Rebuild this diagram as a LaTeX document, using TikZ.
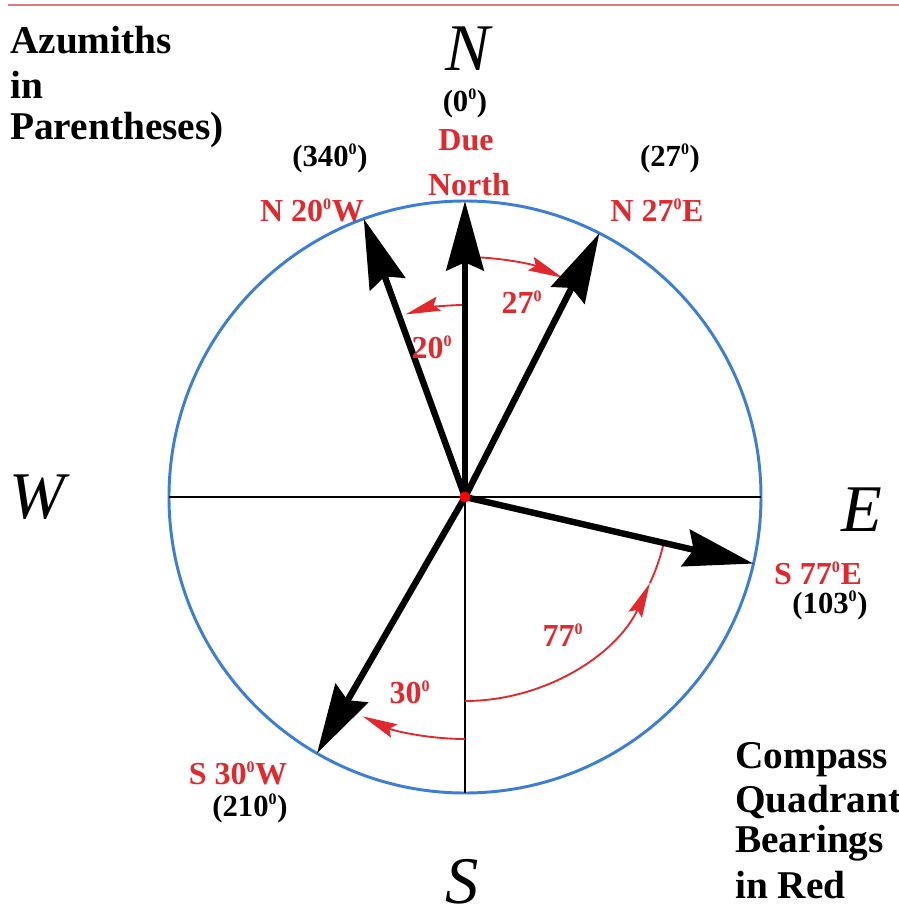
\documentclass[tikz,border=0pt]{standalone}
\usepackage{fontspec}
\setmainfont{Liberation Serif}
\usetikzlibrary{arrows.meta}
\definecolor{circblue}{RGB}{60,125,215}
\definecolor{lblred}{RGB}{225,40,45}
\definecolor{toprule}{RGB}{225,120,120}
\newcommand{\dg}{\textsuperscript{\fontsize{12}{12}\selectfont 0}}
\tikzset{
  bigarrow/.style={line width=4.8pt,-{Stealth[length=52pt,width=28pt,inset=6pt]}},
  axisline/.style={line width=2.2pt},
  redarc/.style={draw=lblred,line width=1.4pt},
  redtip/.style={-{Stealth[length=26pt,width=11pt,inset=4pt]}},
  redlbl/.style={text=lblred,font=\fontsize{24}{26}\selectfont\bfseries,inner sep=0pt},
  blklbl/.style={text=black,font=\fontsize{23}{25}\selectfont\bfseries,inner sep=0pt},
  bigletter/.style={font=\fontsize{50}{52}\selectfont\itshape,inner sep=0pt},
  notelbl/.style={font=\fontsize{29.5}{31}\selectfont\bfseries,inner sep=0pt,anchor=west},
}
\begin{document}
\begin{tikzpicture}[x=0.75pt,y=0.75pt]
\useasboundingbox (-465,-421) rectangle (434,497);
\clip (-465,-421) rectangle (434,497);
\fill[white] (-465,-421) rectangle (434,497);
% top rule
\coordinate (tl) at (-457,492);
\coordinate (tr) at (434,492);
\draw[toprule,line width=2.2pt] (tl) -- (tr);
% centre and circle
\coordinate (O) at (0,0);
\draw[circblue,line width=2.2pt] (O) circle (296);
% points on circle
\coordinate (Wp) at (180:296);
\coordinate (Ep) at (0:296);
\coordinate (Sp) at (270:296);
\coordinate (Np) at (90:296);
\coordinate (NW) at (110:296);
\coordinate (NE) at (63:296);
\coordinate (SE) at (-13:296);
\coordinate (SW) at (240:296);
% axes
\draw[axisline] (Wp) -- (Ep);
\draw[axisline] (O) -- (Sp);
% red arcs
\draw[redarc,redtip] (90:240) arc (90:66:240);
\draw[redarc,redtip] (90:192) arc (90:108:192);
\draw[redarc,redtip] (-90:204) arc (-90:-25:204);
\draw[redarc] (-25:204) arc (-25:-13:204);
\draw[redarc,redtip] (270:242) arc (270:245:242);
% black arrows
\draw[bigarrow] (O) -- (Np);
\draw[bigarrow] (O) -- (NW);
\draw[bigarrow] (O) -- (NE);
\draw[bigarrow] (O) -- (SE);
\draw[bigarrow] (O) -- (SW);
\fill[red] (O) circle (5.5);
% cardinal letters
\node[bigletter] (lN) at (3,448) {N};
\node[bigletter] (lW) at (-428,0) {W};
\node[bigletter] (lE) at (397,-13) {E};
\node[bigletter] (lS) at (-3,-385) {S};
% bearing labels
\node[blklbl] (az0) at (0,394) {(0\dg)};
\node[redlbl] (due) at (1,357) {Due};
\node[redlbl] (north) at (4,312) {North};
\node[blklbl] (az340) at (-135,339) {(340\dg)};
\node[redlbl] (qNW) at (-153,287) {N 20\dg W};
\node[blklbl] (az27) at (205,339) {(27\dg)};
\node[redlbl] (qNE) at (192,287) {N 27\dg E};
\node[redlbl] (qSE) at (353,-76) {S 77\dg E};
\node[blklbl] (az103) at (365,-108) {(103\dg)};
\node[redlbl] (qSW) at (-227,-276) {S 30\dg W};
\node[blklbl] (az210) at (-215,-311) {(210\dg)};
% angle labels
\node[redlbl] (a27) at (57,195) {27\dg};
\node[redlbl] (a20) at (-33,150) {20\dg};
\node[redlbl] (a77) at (98,-138) {77\dg};
\node[redlbl] (a30) at (-55,-195) {30\dg};
% notes
\node[notelbl] (n1) at (-455,457) {Azumiths};
\node[notelbl] (n2) at (-455,412) {in};
\node[notelbl] (n3) at (-455,367) {Parentheses)};
\node[notelbl] (c1) at (270,-263) {Compass};
\node[notelbl] (c2) at (270,-305) {Quadrant};
\node[notelbl] (c3) at (270,-346) {Bearings};
\node[notelbl] (c4) at (270,-388) {in Red};
\end{tikzpicture}
\end{document}
